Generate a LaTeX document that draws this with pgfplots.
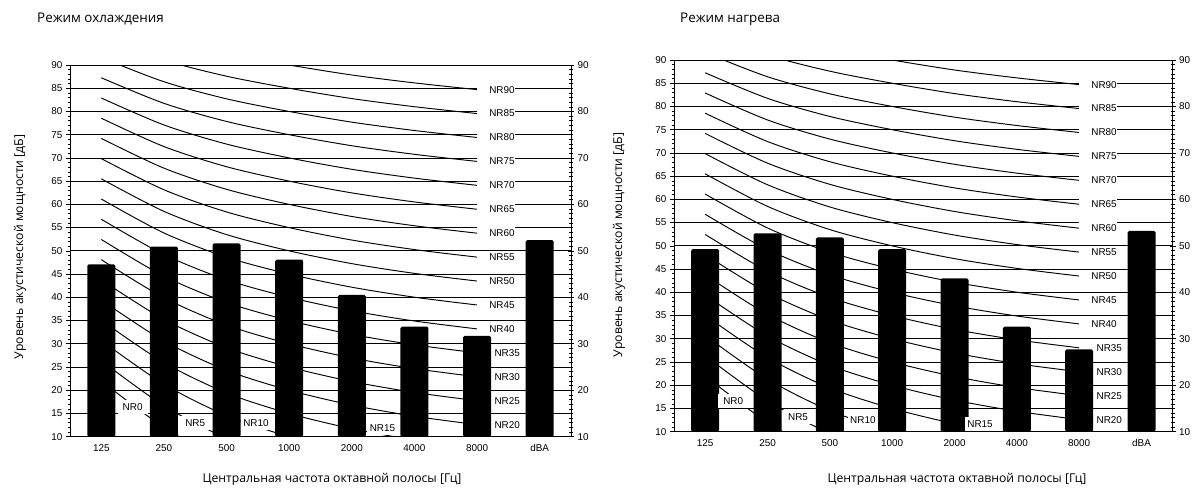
\documentclass[border=0pt]{standalone}
\usepackage{pgfplots}
\pgfplotsset{compat=1.18}
\usepackage{fontspec}
\setmainfont{Open Sans}
\newfontfamily\arial{Liberation Sans}
\newcommand\lblfont{\fontsize{12.2}{14}\selectfont}
\newcommand\ttlfont{\fontsize{13.4}{15}\selectfont}
\newcommand\nrfont{\arial\fontsize{9.9}{10}\selectfont}
\pgfplotsset{
  mainax/.style={
    scale only axis, width=#1, height=371.7pt,
    xmin=-0.5, xmax=7.5, ymin=10, ymax=90,
    axis x line*=bottom, axis y line*=left,
    axis line style={-, line width=0.8pt},
    xtick={0,...,7}, xticklabels={125,250,500,1000,2000,4000,8000,dBA},
    x tick style={draw=none},
    ytick={10,15,...,90}, minor y tick num=4,
    ytick pos=left, tick align=outside,
    major tick length=4pt, minor tick length=2.3pt,
    y tick style={black, line width=0.6pt},
    ymajorgrids, major grid style={black, line width=0.8pt},
    /pgf/number format/assume math mode=true,
    tick label style={font=\arial\fontsize{9.9}{10}\selectfont},
    clip=true,
  },
  secax/.style={
    scale only axis, width=#1, height=371.7pt,
    xmin=-0.5, xmax=7.5, ymin=10, ymax=90,
    axis x line=none, axis y line*=right,
    axis line style={-, line width=0.8pt},
    ytick={10,20,...,90}, minor y tick num=9,
    ytick pos=right, yticklabel pos=right, tick align=center,
    major tick length=6pt, minor tick length=4pt,
    y tick style={black, line width=0.6pt},
    /pgf/number format/assume math mode=true,
    tick label style={font=\arial\fontsize{9.9}{10}\selectfont},
  },
  nr/.style={black, line width=0.95pt, smooth, no marks},
}
\tikzset{
  rlab/.style={fill=white, anchor=west, inner sep=0pt, minimum height=12pt, font=\nrfont},
  slab/.style={fill=white, anchor=west, inner xsep=1pt, inner ysep=1pt, font=\nrfont},
  blab/.style={fill=white, inner sep=0pt, minimum width=30pt, minimum height=14pt, font=\nrfont},
}
\newcommand\nrcurves{%
\addplot[nr] coordinates {(0,22.0) (1,12.0) (2,4.8) (3,0) (4,-3.5) (5,-6.1) (6,-8.0)};
\addplot[nr] coordinates {(0,26.35) (1,16.65) (2,9.67) (3,5) (4,1.575) (5,-0.975) (6,-2.85)};
\addplot[nr] coordinates {(0,30.7) (1,21.3) (2,14.54) (3,10) (4,6.65) (5,4.15) (6,2.3)};
\addplot[nr] coordinates {(0,35.05) (1,25.95) (2,19.41) (3,15) (4,11.725) (5,9.275) (6,7.45)};
\addplot[nr] coordinates {(0,39.4) (1,30.6) (2,24.28) (3,20) (4,16.8) (5,14.4) (6,12.6)};
\addplot[nr] coordinates {(0,43.75) (1,35.25) (2,29.15) (3,25) (4,21.875) (5,19.525) (6,17.75)};
\addplot[nr] coordinates {(0,48.1) (1,39.9) (2,34.02) (3,30) (4,26.95) (5,24.65) (6,22.9)};
\addplot[nr] coordinates {(0,52.45) (1,44.55) (2,38.89) (3,35) (4,32.025) (5,29.775) (6,28.05)};
\addplot[nr] coordinates {(0,56.8) (1,49.2) (2,43.76) (3,40) (4,37.1) (5,34.9) (6,33.2)};
\addplot[nr] coordinates {(0,61.15) (1,53.85) (2,48.63) (3,45) (4,42.175) (5,40.025) (6,38.35)};
\addplot[nr] coordinates {(0,65.5) (1,58.5) (2,53.5) (3,50) (4,47.25) (5,45.15) (6,43.5)};
\addplot[nr] coordinates {(0,69.85) (1,63.15) (2,58.37) (3,55) (4,52.325) (5,50.275) (6,48.65)};
\addplot[nr] coordinates {(0,74.2) (1,67.8) (2,63.24) (3,60) (4,57.4) (5,55.4) (6,53.8)};
\addplot[nr] coordinates {(0,78.55) (1,72.45) (2,68.11) (3,65) (4,62.475) (5,60.525) (6,58.95)};
\addplot[nr] coordinates {(0,82.9) (1,77.1) (2,72.98) (3,70) (4,67.55) (5,65.65) (6,64.1)};
\addplot[nr] coordinates {(0,87.25) (1,81.75) (2,77.85) (3,75) (4,72.625) (5,70.775) (6,69.25)};
\addplot[nr] coordinates {(0,91.6) (1,86.4) (2,82.72) (3,80) (4,77.7) (5,75.9) (6,74.4)};
\addplot[nr] coordinates {(0,95.95) (1,91.05) (2,87.59) (3,85) (4,82.775) (5,81.025) (6,79.55)};
\addplot[nr] coordinates {(0,100.3) (1,95.7) (2,92.46) (3,90) (4,87.85) (5,86.15) (6,84.7)};
}
\newcommand\rlabels{%
\node[rlab] at (axis cs:6,84.7) {\hspace{12pt}NR90\hspace{6pt}};
\node[rlab] at (axis cs:6,79.55) {\hspace{12pt}NR85\hspace{6pt}};
\node[rlab] at (axis cs:6,74.4) {\hspace{12pt}NR80\hspace{6pt}};
\node[rlab] at (axis cs:6,69.25) {\hspace{12pt}NR75\hspace{6pt}};
\node[rlab] at (axis cs:6,64.1) {\hspace{12pt}NR70\hspace{6pt}};
\node[rlab] at (axis cs:6,58.95) {\hspace{12pt}NR65\hspace{6pt}};
\node[rlab] at (axis cs:6,53.8) {\hspace{12pt}NR60\hspace{6pt}};
\node[rlab] at (axis cs:6,48.65) {\hspace{12pt}NR55\hspace{6pt}};
\node[rlab] at (axis cs:6,43.5) {\hspace{12pt}NR50\hspace{6pt}};
\node[rlab] at (axis cs:6,38.35) {\hspace{12pt}NR45\hspace{6pt}};
\node[rlab] at (axis cs:6,33.2) {\hspace{12pt}NR40\hspace{6pt}};
\node[slab] at (axis cs:6.26,28.05) {NR35};
\node[slab] at (axis cs:6.26,22.9) {NR30};
\node[slab] at (axis cs:6.26,17.75) {NR25};
\node[slab] at (axis cs:6.26,12.6) {NR20};
}
\begin{document}
\begin{tikzpicture}
\useasboundingbox (0pt,0pt) rectangle (1195pt,492pt);
% ---------- left chart ----------
\begin{axis}[mainax=501pt, at={(70pt,55.3pt)}, anchor=south west]
\nrcurves
\addplot[ybar, bar width=28pt, fill=black, draw=none, rounded corners=1.5pt] coordinates {(0,47.1) (1,50.9) (2,51.6) (3,48.1) (4,40.5) (5,33.7) (6,31.7) (7,52.3)};
\rlabels
\node[blab] at (axis cs:0.5,16.4) {NR0};
\node[blab] at (axis cs:1.5,12.9) {NR5};
\node[blab] at (axis cs:2.47,13.0) {NR10};
\node[blab] at (axis cs:4.49,11.9) {NR15};
\end{axis}
\begin{axis}[secax=501pt, at={(70pt,55.3pt)}, anchor=south west]
\addplot[draw=none] coordinates {(0,10)};
\end{axis}
% ---------- right chart ----------
\begin{axis}[mainax=498.7pt, at={(674pt,60.3pt)}, anchor=south west]
\nrcurves
\addplot[ybar, bar width=28pt, fill=black, draw=none, rounded corners=1.5pt] coordinates {(0,49.3) (1,52.7) (2,51.8) (3,49.3) (4,43.0) (5,32.6) (6,27.7) (7,53.2)};
\rlabels
\node[blab] at (axis cs:0.45,16.5) {NR0};
\node[blab] at (axis cs:1.49,13.2) {NR5};
\node[blab] at (axis cs:2.53,12.4) {NR10};
\node[blab] at (axis cs:4.41,11.6) {NR15};
\end{axis}
\begin{axis}[secax=498.7pt, at={(674pt,60.3pt)}, anchor=south west]
\addplot[draw=none] coordinates {(0,10)};
\end{axis}
% ---------- texts ----------
\node[anchor=base west, inner sep=0pt, font=\ttlfont] at (37pt,469pt) {Режим охлаждения};
\node[anchor=base west, inner sep=0pt, font=\ttlfont] at (680pt,469pt) {Режим нагрева};
\node[rotate=90, font=\lblfont] at (20pt,245pt) {Уровень акустической мощности [дБ]};
\node[rotate=90, font=\lblfont] at (619pt,247pt) {Уровень акустической мощности [дБ]};
\node[font=\lblfont] at (332pt,13pt) {Центральная частота октавной полосы [Гц]};
\node[font=\lblfont] at (957pt,13pt) {Центральная частота октавной полосы [Гц]};
\end{tikzpicture}
\end{document}
